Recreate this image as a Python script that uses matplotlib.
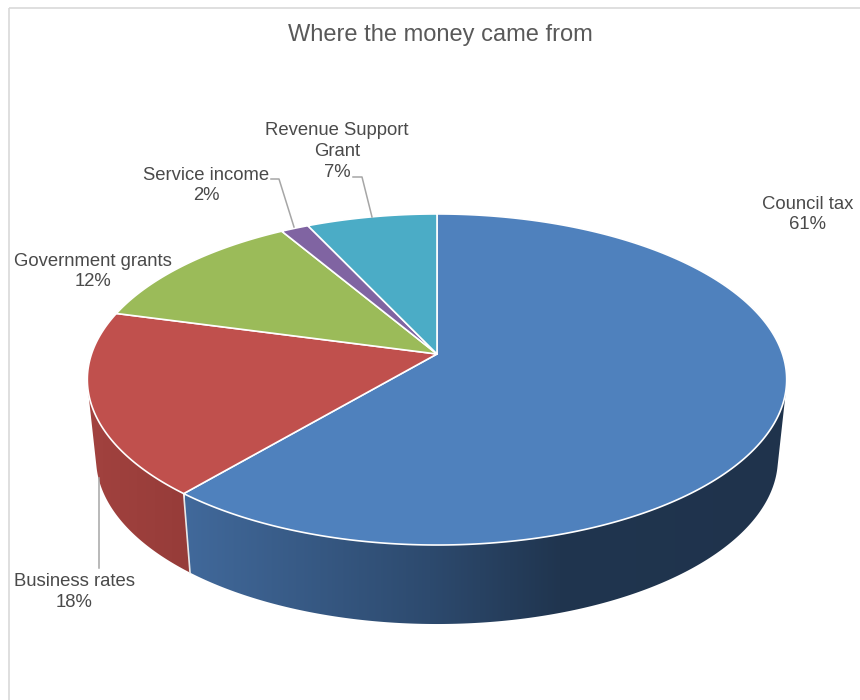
import numpy as np
import matplotlib
matplotlib.use('Agg')
import matplotlib.pyplot as plt
from matplotlib.colors import to_rgb
from matplotlib.patches import Polygon, Rectangle

# data
categories = ['Council tax', 'Business rates', 'Government grants', 'Service income', 'Revenue Support\nGrant']
values = [61.2, 18.0, 12.3, 1.5, 7.0]
colors = ['#4f81bd', '#c0504d', '#9bbb59', '#8064a2', '#4bacc6']

# layout, in pixels of the 860x700 picture
cx, cy = 437, 354
a, b, k = 345.5, 161.6, 0.154   # disc radius x, radius y, perspective
depth = 79
shrink = 0.975
label_pos = [(808, 214.5), (74, 592), (93, 271.5), (206, 185.5), (337, 151.5)]
leaders = [
    None,
    [(99, 478), (99, 568)],
    None,
    [(271, 179), (279, 179), (294, 227)],
    [(353, 177), (362, 177), (372, 217)],
]


def top_rim(theta):
    w = 1 + k * np.cos(theta)
    return cx + a * np.sin(theta) / w, cy - b * np.cos(theta) / w


def low_rim(theta):
    w = 1 + k * np.cos(theta)
    return cx + shrink * a * np.sin(theta) / w, cy - b * np.cos(theta) / w + depth


def hull(points):
    # monotone chain, the wall silhouette is the hull of its two rims
    pts = sorted(set(map(tuple, points)))

    def half(seq):
        out = []
        for p in seq:
            while len(out) > 1 and ((out[-1][0] - out[-2][0]) * (p[1] - out[-2][1])
                                    - (out[-1][1] - out[-2][1]) * (p[0] - out[-2][0])) <= 0:
                out.pop()
            out.append(p)
        return out[:-1]

    return half(pts) + half(pts[::-1])


fig = plt.figure(figsize=(8.6, 7), dpi=100, facecolor='white')
ax = fig.add_axes([0, 0, 1, 1])
ax.axis('off')

# frame, runs off the right and bottom of the picture
ax.add_patch(Rectangle((8.5, 8), 900, 900, fill=False, ec='#d9d9d9', lw=1.2))

edges = np.radians(np.concatenate([[0], np.cumsum(values)]) * 3.6)

# side wall, horizontal gradient clipped to the wall outline
side_x = {
    0: ([185, 430, 560, 790], ['#41699b', '#2d4a6e', '#20354f', '#1f334c']),
    1: ([85, 190], ['#a2423f', '#963c39']),
}
for i, (xs, cols) in side_x.items():
    th = np.linspace(edges[i], edges[i + 1], 400)
    tx, ty = top_rim(th)
    lx, ly = low_rim(th)
    outline = Polygon(hull(np.column_stack([np.r_[tx, lx], np.r_[ty, ly]])), closed=True,
                      transform=ax.transData, fc='none', ec='none')
    ax.add_patch(outline)
    px = np.arange(min(xs), max(xs) + 1)
    rgb = np.array([to_rgb(c) for c in cols])
    grad = np.stack([np.interp(px, xs, rgb[:, j]) for j in range(3)], axis=-1)[np.newaxis, :, :]
    im = ax.imshow(grad, extent=(px[0], px[-1], 700, 0), aspect='auto', zorder=2, interpolation='bilinear')
    im.set_clip_path(outline)

ax.set_xlim(0, 860)
ax.set_ylim(700, 0)

# white seam between the two visible walls
ax.plot(*zip(top_rim(edges[1]), low_rim(edges[1])), color='#e8e8e8', lw=1.2, zorder=3)

# top face
for i in range(len(values)):
    th = np.linspace(edges[i], edges[i + 1], 300)
    x, y = top_rim(th)
    pts = np.column_stack([np.r_[cx, x], np.r_[cy, y]])
    ax.add_patch(Polygon(pts, closed=True, fc=colors[i], ec='white', lw=1.2, zorder=4, joinstyle='round'))

# leader lines
for line in leaders:
    if line:
        ax.plot(*zip(*line), color='#a6a6a6', lw=1.1, zorder=5)

# labels
font = 'Liberation Sans'
for name, v, pos in zip(categories, values, label_pos):
    ax.text(pos[0], pos[1], f'{name}\n{round(v)}%', ha='center', va='center', fontsize=13.3,
            family=font, color='#4a4a4a', linespacing=1.27, zorder=6)
ax.text(440.5, 35.5, 'Where the money came from', ha='center', va='center', fontsize=17,
        family=font, color='#595959', zorder=6)

fig.savefig('out.png', dpi=100)
